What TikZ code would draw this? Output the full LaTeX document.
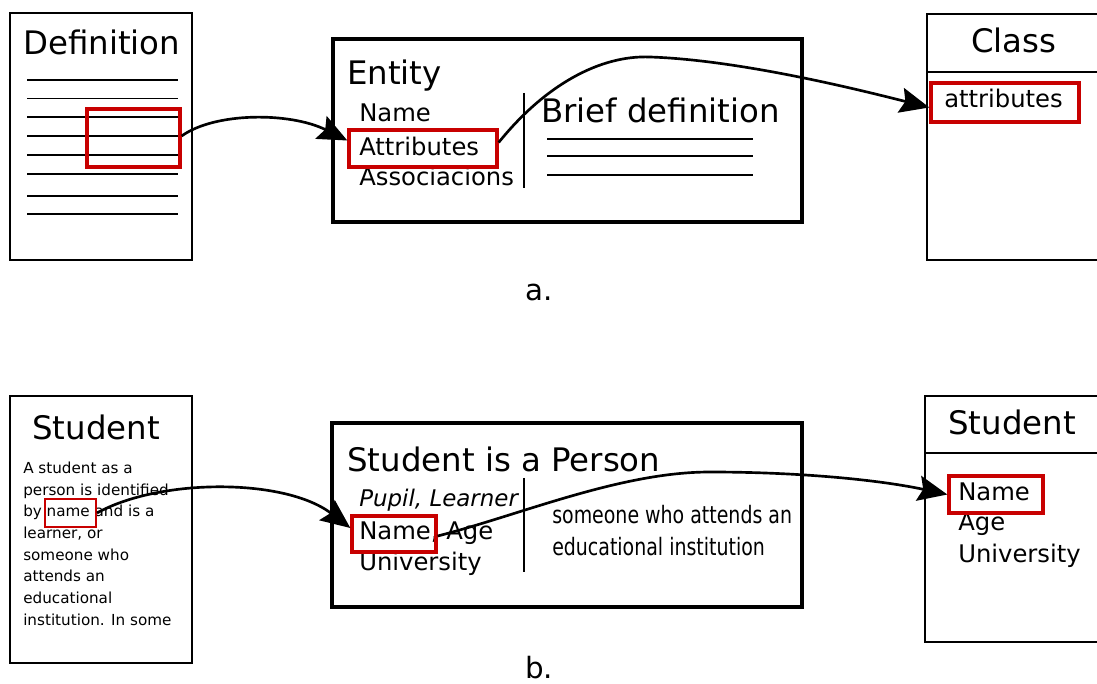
\documentclass[tikz,border=0pt]{standalone}
\usepackage{fontspec}
\setmainfont{DejaVu Sans}
\newfontfamily\narrowfont{DejaVu Sans}[FakeStretch=0.79]
\usetikzlibrary{arrows.meta,fit,calc}
\definecolor{selred}{RGB}{200,0,0}
\tikzset{
  docbox/.style={draw, line width=1.2pt, inner sep=0pt},
  entbox/.style={draw, line width=2.3pt, inner sep=0pt},
  selbox/.style={draw=selred, line width=2.5pt, inner sep=0pt},
  thinsel/.style={draw=selred, line width=1.5pt, inner sep=0pt},
  rulestroke/.style={line width=1.2pt},
  divider/.style={line width=1.3pt},
  link/.style={line width=2pt, -{Stealth[length=22pt,width=19pt,inset=3.5pt]}},
  lbl/.style={anchor=base west, inner sep=0pt},
  title/.style={lbl, font=\fontsize{24.3}{28}\selectfont},
  item/.style={lbl, font=\fontsize{18.2}{22}\selectfont},
  note/.style={lbl, font=\fontsize{11.4}{14}\selectfont},
  gloss/.style={lbl, font=\narrowfont\fontsize{18}{22}\selectfont},
  caption/.style={lbl, font=\fontsize{22}{26}\selectfont}
}
\begin{document}
\begin{tikzpicture}[x=0.75pt,y=-0.75pt]
\useasboundingbox (0,0) rectangle (1097,684);

% ---------- row a ----------
% definition document
\node[docbox, fit={(10,13) (192,260)}] (defdoc) {};
\node[title] (deftitle) at (23,55) {Definition};
\foreach \yy in {80,98.5,117,136,155,174,196,214}
  \draw[rulestroke] (27,\yy) -- (178,\yy);
\node[selbox, fit={(87,109) (180,167)}] (defsel) {};

% entity card
\node[entbox, fit={(333,39) (802,222)}] (entcard) {};
\node[title] (enttitle) at (347,85) {Entity};
\node[item] (entname) at (359,122) {Name};
\node[item] (entattr) at (359,156) {Attributes};
\node[item] (entassoc) at (359,186) {Associacions};
\node[selbox, fit={(349,130) (497,167)}] (attrsel) {};
\draw[divider] (524,93) -- (524,188);
\node[title] (brief) at (541,123) {Brief definition};
\foreach \yy in {139,156,175}
  \draw[rulestroke] (547,\yy) -- (753,\yy);

% class box
\node[docbox, fit={(927,14) (1110,260)}] (classbox) {};
\draw[line width=1.2pt] (classbox.west |- 0,72) -- (1110,72);
\node[title] (classtitle) at (971,53) {Class};
\node[item] (clsattrtext) at (944,108) {attributes};
\node[selbox, fit={(931,83) (1079,122)}] (clsattr) {};

\node[caption] (capa) at (525,301) {a.};

% ---------- row b ----------
% student document
\node[docbox, fit={(10,396) (192,663)}] (studoc) {};
\node[title] (stutitle) at (32,440) {Student};
\foreach \txt [count=\i from 0] in {A student as a, person is identified, by name and is a, {learner, or}, someone who, attends an, educational, institution. In some}
  \node[note] (stuline\i) at (23,473.3+21.7*\i) {\txt};
\node[thinsel, fit={(45,499) (96,527)}] (namesel) {};

% student entity card
\node[entbox, fit={(332,423) (802,607)}] (stucard) {};
\node[title] (stucardtitle) at (347,471) {Student is a Person};
\node[item, font=\fontsize{17.2}{21}\selectfont\itshape] (synonyms) at (359,507) {Pupil, Learner};
\node[item] (nameage) at (359,539) {Name, Age};
\node[item] (univ) at (359,570) {University};
\node[selbox, fit={(352,516) (436,552)}] (bnamesel) {};
\draw[divider] (524,478) -- (524,572);
\node[gloss] (gloss1) at (552,523) {someone who attends an};
\node[gloss] (gloss2) at (552,555) {educational institution};

% student class box
\node[docbox, fit={(925,396) (1110,642)}] (stuclass) {};
\draw[line width=1.2pt] (stuclass.west |- 0,453) -- (1110,453);
\node[title] (stuclasstitle) at (948,435) {Student};
\node[item] (clsname) at (958,500) {Name};
\node[item] (clsage) at (958,530) {Age};
\node[item] (clsuniv) at (958,562) {University};
\node[selbox, fit={(949,476) (1043,513)}] (snamesel) {};

\node[caption] (capb) at (525,678) {b.};

% ---------- links ----------
\draw[link] ($(defsel.east)+(0,-2)$) .. controls (215,112) and (290,112) .. ($(attrsel.west)+(0,-8)$);
\draw[link] ($(attrsel.east)+(0,-6)$) .. controls (545,85) and (600,55) .. (650,57)
  .. controls (740,60) and (860,90) .. ($(clsattr.west)+(0,5)$);
\draw[link] (namesel.east) .. controls (160,478) and (285,478) .. ($(bnamesel.west)+(0,-6)$);
\draw[link] ($(bnamesel.east)+(0,2)$) .. controls (520,515) and (620,472) .. (710,472)
  .. controls (800,472) and (880,480) .. (snamesel.west);
\end{tikzpicture}
\end{document}
